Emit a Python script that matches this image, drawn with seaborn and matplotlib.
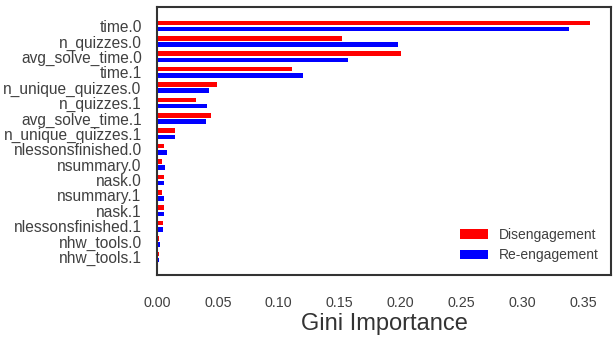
"""Gini importance of features for disengagement vs re-engagement."""
import matplotlib
matplotlib.use("Agg")
import matplotlib.pyplot as plt
import pandas as pd
import seaborn as sns

features = [
    "time.0", "n_quizzes.0", "avg_solve_time.0", "time.1",
    "n_unique_quizzes.0", "n_quizzes.1", "avg_solve_time.1", "n_unique_quizzes.1",
    "nlessonsfinished.0", "nsummary.0", "nask.0", "nsummary.1",
    "nask.1", "nlessonsfinished.1", "nhw_tools.0", "nhw_tools.1",
]
disengagement = [0.355, 0.152, 0.200, 0.111, 0.049, 0.032, 0.044, 0.015,
                 0.0057, 0.0044, 0.0057, 0.0041, 0.0054, 0.0046, 0.0020, 0.0020]
reengagement = [0.338, 0.198, 0.157, 0.120, 0.043, 0.041, 0.040, 0.015,
                0.0082, 0.0068, 0.0057, 0.0057, 0.0054, 0.0050, 0.0024, 0.0020]
groups = ["Disengagement", "Re-engagement"]
colors = {"Disengagement": "red", "Re-engagement": "blue"}

df = pd.DataFrame({
    "feature": features * 2,
    "importance": disengagement + reengagement,
    "group": [groups[0]] * len(features) + [groups[1]] * len(features),
})

sns.set_theme(style="white")
plt.rcParams["font.family"] = ["Liberation Sans", "DejaVu Sans"]

fig, ax = plt.subplots(figsize=(6.13, 3.37), dpi=100)
sns.barplot(data=df, x="importance", y="feature", hue="group", order=features,
            hue_order=groups, palette=colors, width=0.8, gap=0.25,
            saturation=1, errorbar=None, linewidth=0, ax=ax)
ax.set_ylim(16.17, -1.23)
ax.set_ylabel("")
ax.set_xlabel("Gini Importance", fontsize=17, labelpad=2, color=".2")
ax.tick_params(axis="y", labelsize=11.2, pad=5, labelcolor=".25")
ax.tick_params(axis="x", labelsize=10.3, pad=9, labelcolor=".25")
for s in ax.spines.values():
    s.set_color(".2")
    s.set_linewidth(1.5)
leg = ax.legend(loc="lower right", frameon=False, fontsize=10, title=None)
for t in leg.get_texts():
    t.set_color(".25")
fig.subplots_adjust(left=0.256, right=0.997, top=0.979, bottom=0.184)
fig.savefig("out.png", dpi=100)
